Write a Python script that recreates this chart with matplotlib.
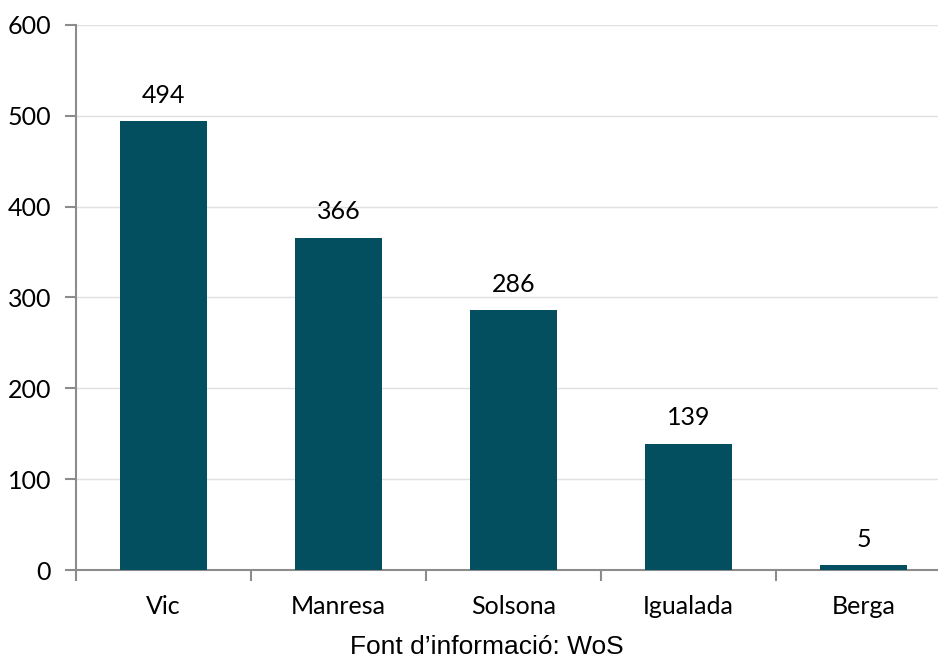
import numpy as np
import matplotlib.pyplot as plt
from matplotlib.ticker import FixedLocator

# Data
cities = ['Vic', 'Manresa', 'Solsona', 'Igualada', 'Berga']
counts = [494, 366, 286, 139, 5]

bar_color = '#044F5F'
axis_color = '#8C8C8C'

fig = plt.figure(figsize=(9.38, 6.62), dpi=100)
ax = fig.add_axes([76 / 938, 1 - 570 / 662, 875 / 938, 545 / 662])

x = np.arange(len(cities))
bars = ax.bar(x, counts, width=0.5, color=bar_color, zorder=3)

ax.set_xlim(-0.5, len(cities) - 0.5)
ax.set_ylim(0, 600)
ax.set_yticks(range(0, 601, 100))
ax.grid(axis='y', color='#E0E0E0', linewidth=1, zorder=0)

# value labels
for xi, v in zip(x, counts):
    ax.text(xi, v + 16, str(v), ha='center', va='bottom', fontsize=18, family='Lato')

# axes styling
for side in ['top', 'right']:
    ax.spines[side].set_visible(False)
ax.spines['left'].set_color(axis_color)
ax.spines['bottom'].set_color(axis_color)
ax.spines['left'].set_linewidth(1.5)
ax.spines['bottom'].set_linewidth(1.5)

ax.set_xticks(x)
ax.set_xticklabels(cities, fontsize=18, family='Lato')
ax.tick_params(axis='x', which='major', length=0, pad=18)
ax.xaxis.set_minor_locator(FixedLocator(np.arange(-0.5, len(cities) - 0.5, 1)))
ax.tick_params(axis='x', which='minor', length=8, color=axis_color, width=1.5)
ax.tick_params(axis='y', length=8, color=axis_color, width=1.5, labelsize=18, pad=10)
for lbl in ax.get_yticklabels():
    lbl.set_family('Lato')

fig.text(487 / 938, 1 - 647 / 662, 'Font d\u2019informació: WoS', ha='center', va='center',
         fontsize=19, family='Liberation Sans')

fig.savefig('out.png', dpi=100)
